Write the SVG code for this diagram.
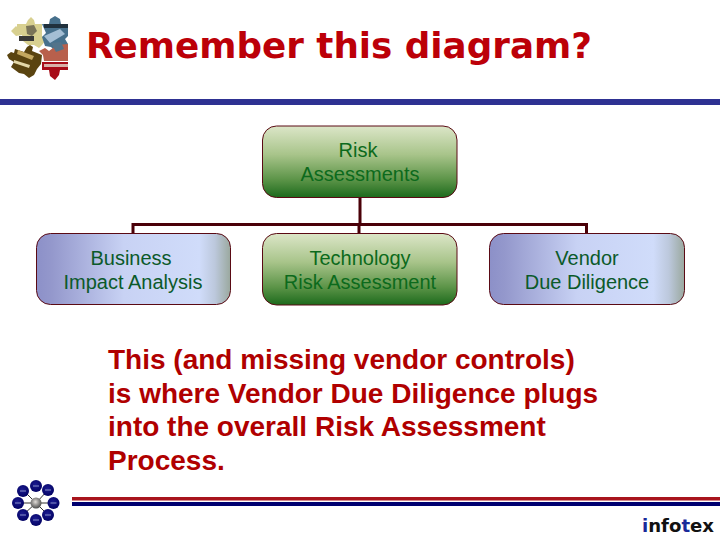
<svg xmlns="http://www.w3.org/2000/svg" width="720" height="540" viewBox="0 0 720 540">
<style>
.n{font:20px "Liberation Sans",Arial,sans-serif;text-anchor:middle}
.ng{fill:#0c6a1c}
.nb{fill:#0b5a2a}
.body{font:bold 28px "Liberation Sans",Arial,sans-serif;fill:#b00000}
.box{stroke:#5a0a14;stroke-width:1}
.conn{fill:none;stroke:#4a0008;stroke-width:3}
</style>
<defs>
<linearGradient id="g" x1="0" y1="0" x2="0" y2="1"><stop offset="0" stop-color="#dce6c8"/><stop offset=".4" stop-color="#a8c48a"/><stop offset=".75" stop-color="#5c9448"/><stop offset="1" stop-color="#1c6a1c"/></linearGradient>
<linearGradient id="b" x1="0" y1="0" x2="1" y2="0"><stop offset="0" stop-color="#8c90c8"/><stop offset=".08" stop-color="#9498cc"/><stop offset=".45" stop-color="#c8d2f4"/><stop offset=".84" stop-color="#d0dcfa"/><stop offset=".92" stop-color="#bcc8dc"/><stop offset="1" stop-color="#9aa89e"/></linearGradient>
<radialGradient id="ball" cx=".45" cy=".4" r=".65"><stop offset="0" stop-color="#1c1c90"/><stop offset="1" stop-color="#000060"/></radialGradient>
<radialGradient id="hub" cx=".45" cy=".4" r=".6"><stop offset="0" stop-color="#e0dcd8"/><stop offset="1" stop-color="#4a4a4a"/></radialGradient>
</defs>
<g id="logo">
<path d="M17 24h9l2-4 3-3 3 3 1 4h7v12l4 4-4 5-3 3-5-3-6 0-5-4-1-6-6 1-5-5 5-5 1 1z" fill="#d8d090"/>
<path d="M26 26l8-1 3 6-5 5-5-2z" fill="#7a7458"/>
<path d="M19 36h15v5h-15z" fill="#3a3a38"/>
<path d="M42 24h7l1-5 5-3 5 3 1 5h7v12l-3 3 3 5v5l-14 1-3-3-6-1-3-9 4-4z" fill="#47708c"/>
<path d="M44 24h24v4H44z" fill="#20303c"/>
<path d="M44 36l16-7 5 5-15 9z" fill="#a4bed4"/>
<path d="M57 45l11-1v17H44l-1-6-4-4 6-3 4 3z" fill="#b8604c"/>
<path d="M51 43l10-1 3 7-8 3z" fill="#53738a"/>
<path d="M42 62h26v8h-8l-1 5-4 5-5-4-1-6h-7z" fill="#a80c18"/>
<path d="M44 64h24v3H44z" fill="#d8b0a8"/>
<path d="M15 49l9 3 3-5 3-2 3 2-1 4 10 4-1 9-4 5-3 6-5 3-5-4-5-1-8-6 3-5-5-3-2-4 4-3 3 1z" fill="#5a4410"/>
<path d="M18 50l16 6-2 4-15-6z" fill="#c4a860"/>
<path d="M14 60l16 5-1 3-15-5z" fill="#e4d8a8"/>
</g>
<text id="title" x="86" y="58" font-family="'DejaVu Sans',Verdana,sans-serif" font-weight="bold" font-size="35" fill="#bc0008" textLength="506" lengthAdjust="spacingAndGlyphs">Remember this diagram?</text>
<rect id="top-rule" x="0" y="99" width="720" height="6" fill="#2e3192"/>
<g id="connectors" class="conn">
<path d="M360 197V224.500M133 234V224.500H586.500V234M359 224.500V234"/>
</g>
<g id="risk"><rect class="box" x="262.500" y="126" width="194.500" height="71.500" rx="14" fill="url(#g)"/><text class="n ng" x="358" y="157">Risk</text><text class="n ng" x="360" y="181">Assessments</text></g>
<g id="business"><rect class="box" x="36.500" y="233.500" width="194" height="71" rx="14" fill="url(#b)"/><text class="n nb" x="131" y="265">Business</text><text class="n nb" x="133" y="289">Impact Analysis</text></g>
<g id="technology"><rect class="box" x="262.500" y="233.500" width="194.500" height="71.500" rx="14" fill="url(#g)"/><text class="n ng" x="360" y="265">Technology</text><text class="n ng" x="360" y="289">Risk Assessment</text></g>
<g id="vendor"><rect class="box" x="489.500" y="233.500" width="195" height="71" rx="14" fill="url(#b)"/><text class="n nb" x="587" y="265">Vendor</text><text class="n nb" x="587" y="289">Due Diligence</text></g>
<g id="note" class="body"><text x="108" y="369">This (and missing vendor controls)</text><text x="108" y="403">is where Vendor Due Diligence plugs</text><text x="108" y="436">into the overall Risk Assessment</text><text x="108" y="470">Process.</text></g>
<g id="atom">
<path d="M36 503L23 490M36 503L48 490M36 503L18 503M36 503L54 503M36 503L23 515M36 503L48 515" stroke="#333" stroke-width="1"/>
<g fill="url(#ball)"><circle cx="36" cy="486" r="6"/><circle cx="23" cy="491" r="6"/><circle cx="48" cy="490" r="6"/><circle cx="18" cy="503" r="6"/><circle cx="53.500" cy="503" r="6"/><circle cx="23" cy="515" r="6"/><circle cx="48" cy="515" r="6"/><circle cx="36" cy="520" r="6"/></g>
<g stroke="#8890c8" stroke-width="1"><path d="M33 486h6M20 491h6M45 490h6M15 503h6M50.500 503h6M20 515h6M45 515h6M33 520h6"/></g>
<circle cx="36" cy="503" r="5.500" fill="url(#hub)"/>
</g>
<rect id="rule-red" x="72" y="497" width="648" height="3.500" fill="#a8141c"/>
<rect id="rule-blue" x="72" y="502" width="648" height="4" fill="#000070"/>
<text id="brand" x="642" y="532" font-family="'DejaVu Sans',Verdana,sans-serif" font-weight="bold" font-size="18" fill="#111" textLength="72" lengthAdjust="spacingAndGlyphs"><tspan fill="#1a2a9a">i</tspan>nfo<tspan fill="#1a2a9a">t</tspan>ex</text>
</svg>
